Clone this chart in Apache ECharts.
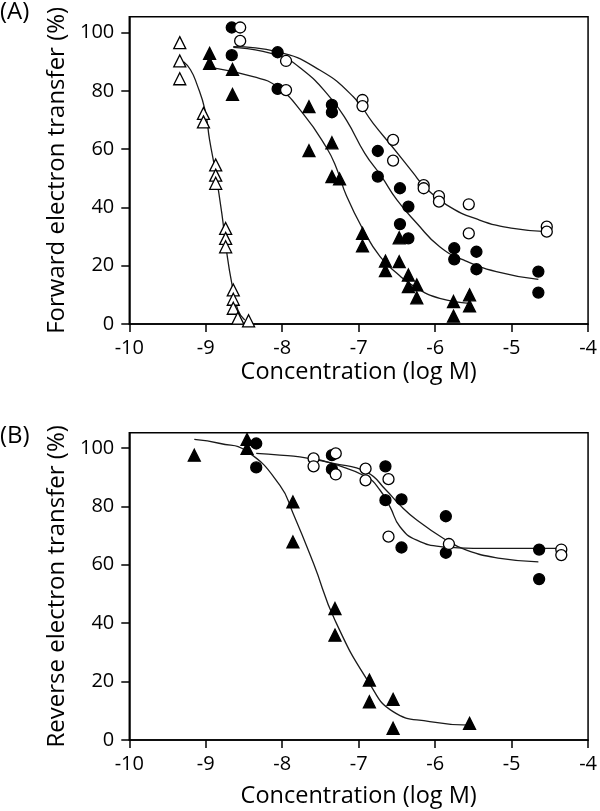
<!DOCTYPE html>
<html>
<head>
<meta charset="utf-8">
<script src="https://cdn.jsdelivr.net/npm/echarts@6/dist/echarts.min.js"></script>
<style>
html,body{margin:0;padding:0;background:#fff;}
#chart{width:600px;height:811px;}
</style>
</head>
<body>
<div id="chart"></div>
<script>
// ---------- Data (x = log M, y = %) ----------
const xTicks = [-10, -9, -8, -7, -6, -5, -4];
const yTicks = [0, 20, 40, 60, 80, 100];

// Panel A: forward electron transfer
const A_openTri = [
  [-9.34,96.6],[-9.34,90.3],[-9.34,84.2],
  [-9.03,72.3],[-9.03,69.4],
  [-8.87,54.6],[-8.87,51.1],[-8.87,48.3],
  [-8.74,32.8],[-8.74,29.4],[-8.74,26.5],
  [-8.64,11.7],[-8.64,8.5],[-8.64,5.4],
  [-8.58,2.0],[-8.44,1.1]
];
const A_filledCirc = [
  [-8.66,101.8],[-8.66,92.3],
  [-8.06,93.3],[-8.06,80.7],
  [-7.35,75.2],[-7.35,72.7],
  [-6.75,59.4],[-6.75,50.6],
  [-6.46,46.6],[-6.46,34.3],
  [-6.35,40.3],[-6.35,29.4],
  [-5.75,26.0],[-5.75,22.2],
  [-5.46,24.8],[-5.46,18.8],
  [-4.65,18.0],[-4.65,10.8]
];
const A_openCirc = [
  [-8.55,101.8],[-8.55,97.2],
  [-7.95,90.3],[-7.95,80.3],
  [-6.95,76.9],[-6.95,74.8],
  [-6.55,63.2],[-6.55,56.1],
  [-6.15,47.7],[-6.15,46.6],
  [-5.95,43.9],[-5.95,42.0],
  [-5.56,41.1],[-5.56,31.1],
  [-4.54,33.4],[-4.54,31.7]
];
const A_filledTri = [
  [-8.95,92.9],[-8.95,89.5],
  [-8.65,87.4],[-8.65,78.8],
  [-7.65,74.6],[-7.65,59.5],
  [-7.35,62.2],[-7.35,50.6],
  [-7.25,49.8],
  [-6.95,31.1],[-6.95,26.8],
  [-6.65,21.6],[-6.65,18.3],
  [-6.47,29.6],[-6.47,21.4],
  [-6.35,16.8],[-6.35,12.8],
  [-6.24,13.4],[-6.24,9.0],
  [-5.76,7.7],[-5.76,2.7],
  [-5.55,10.0],[-5.55,6.2]
];
// fitted curves
const A_fitOpenTri = [
  [-9.29,90.0],[-9.2,87.3],[-9.12,82.6],[-9.01,73.5],[-8.95,63.2],[-8.87,51.7],
  [-8.79,38.0],[-8.73,25.4],[-8.66,14.0],[-8.58,4.8],[-8.49,1.4]
];
const A_fitOpenCirc = [
  [-8.64,95.2],[-8.07,93.5],[-7.51,87.2],[-7.07,78.0],[-6.81,68.9],[-6.55,60.5],
  [-6.29,52.0],[-6.15,47.5],[-5.85,40.9],[-5.42,35.7],[-4.98,32.8],[-4.54,31.7]
];
const A_fitFilledCirc = [
  [-8.64,95.0],[-8.07,92.3],[-7.73,87.2],[-7.38,78.0],[-7.16,70.0],[-6.92,58.6],
  [-6.70,50.6],[-6.50,42.6],[-6.24,34.6],[-5.94,26.5],[-5.63,22.0],[-5.20,18.0],[-4.65,15.3]
];
const A_fitFilledTri = [
  [-8.97,88.3],[-8.38,84.9],[-8.07,81.5],[-7.73,72.3],[-7.42,60.5],[-7.29,53.5],
  [-7.16,44.0],[-6.94,32.3],[-6.72,23.1],[-6.50,17.4],[-6.24,12.3],[-5.94,8.8],[-5.55,7.1]
];

// Panel B: reverse electron transfer
const B_filledTri = [
  [-9.15,97.5],[-8.46,102.9],[-8.46,99.8],
  [-7.86,81.5],[-7.86,67.8],
  [-7.31,45.0],[-7.31,35.9],
  [-6.86,20.5],[-6.86,13.1],
  [-6.55,13.9],[-6.55,4.0],
  [-5.55,5.7]
];
const B_filledCirc = [
  [-8.34,101.5],[-8.34,93.3],
  [-7.35,97.5],[-7.35,92.7],
  [-6.65,93.7],[-6.65,82.1],
  [-6.44,82.4],[-6.44,65.9],
  [-5.86,76.6],[-5.86,64.1],
  [-4.64,65.2],[-4.64,55.1]
];
const B_openCirc = [
  [-7.59,96.4],[-7.59,93.7],
  [-7.30,98.1],[-7.30,90.9],
  [-6.91,92.9],[-6.91,88.9],
  [-6.61,89.3],[-6.61,69.6],
  [-5.82,67.1],
  [-4.35,65.2],[-4.35,63.3]
];
const B_fitFilledTri = [
  [-9.15,102.9],[-8.81,101.5],[-8.46,98.8],[-8.03,87.2],[-7.86,77.7],[-7.59,60.4],
  [-7.31,41.0],[-6.86,19.4],[-6.55,9.7],[-6.07,6.3],[-5.55,5.1]
];
const B_fitFilledCirc = [
  [-8.34,98.1],[-8.03,97.5],[-7.77,96.9],[-7.33,94.7],[-6.90,91.8],[-6.64,85.5],
  [-6.46,80.4],[-6.24,75.3],[-5.89,69.0],[-5.59,65.0],[-5.15,62.2],[-4.65,61.0]
];
const B_fitOpenCirc = [
  [-7.59,96.4],[-7.33,94.5],[-6.90,90.1],[-6.72,85.5],[-6.59,79.8],[-6.46,73.0],
  [-6.24,68.4],[-5.89,66.1],[-5.50,65.6],[-4.35,65.6]
];

const xTitle = 'Concentration (log M)';
const yTitleA = 'Forward electron transfer (%)';
const yTitleB = 'Reverse electron transfer (%)';

// ---------- Chart ----------
const FONT = 'Open Sans';
const chart = echarts.init(document.getElementById('chart'), null, {renderer: 'canvas'});

function xAx(gi, gap) {
  return {
    type: 'value', gridIndex: gi, min: -10, max: -4, interval: 1,
    name: xTitle, nameLocation: 'middle', nameGap: gap,
    nameTextStyle: {fontFamily: FONT, fontSize: 23.5, color: '#000'},
    axisLine: {show: true, onZero: false, lineStyle: {color: '#000', width: 1.5}},
    axisTick: {show: true, inside: false, length: 8, lineStyle: {color: '#000', width: 1.5}},
    axisLabel: {show: true, fontFamily: FONT, fontSize: 20, color: '#000', margin: 14,
      customValues: xTicks},
    splitLine: {show: false}
  };
}
function yAx(gi, name, max) {
  return {
    type: 'value', gridIndex: gi, min: 0, max: max,
    name: name, nameLocation: 'middle', nameGap: 51,
    nameTextStyle: {fontFamily: FONT, fontSize: 24, color: '#000'},
    axisLine: {show: true, onZero: false, lineStyle: {color: '#000', width: 1.5}},
    axisTick: {show: true, inside: false, length: 8, lineStyle: {color: '#000', width: 1.5},
      customValues: yTicks},
    axisLabel: {show: true, fontFamily: FONT, fontSize: 20, color: '#000', margin: 15,
      customValues: yTicks},
    splitLine: {show: false}
  };
}
function scatter(data, xi, symbol, filled, size) {
  return {
    type: 'scatter', xAxisIndex: xi, yAxisIndex: xi, data: data,
    symbol: symbol, symbolSize: size, z: 3,
    itemStyle: {color: filled ? '#000' : '#fff', borderColor: '#000', borderWidth: 1.3, opacity: 1}
  };
}
function curve(data, xi) {
  return {
    type: 'line', xAxisIndex: xi, yAxisIndex: xi, data: data,
    showSymbol: false, symbol: 'none', smooth: 0.5, z: 2,
    lineStyle: {color: '#1a1a1a', width: 1.3}
  };
}

const option = {
  animation: false,
  backgroundColor: '#fff',
  grid: [
    {left: 129.3, top: 16.7, width: 459.2, height: 307.3, show: true, borderColor: '#000', borderWidth: 1.5, backgroundColor: 'transparent'},
    {left: 129.3, top: 432.7, width: 459.2, height: 307.3, show: true, borderColor: '#000', borderWidth: 1.5, backgroundColor: 'transparent'}
  ],
  xAxis: [xAx(0, 36), xAx(1, 44)],
  yAxis: [yAx(0, yTitleA, 105.5), yAx(1, yTitleB, 105.2)],
  graphic: [
    {type: 'text', left: 0, top: 0, style: {text: '(A)', fontFamily: FONT, fontSize: 24, fill: '#000'}},
    {type: 'text', left: 0, top: 424, style: {text: '(B)', fontFamily: FONT, fontSize: 24, fill: '#000'}}
  ],
  series: [
    curve(A_fitOpenTri, 0), curve(A_fitOpenCirc, 0), curve(A_fitFilledCirc, 0), curve(A_fitFilledTri, 0),
    scatter(A_openTri, 0, 'triangle', false, 12),
    scatter(A_filledTri, 0, 'triangle', true, 12),
    scatter(A_filledCirc, 0, 'circle', true, 11),
    scatter(A_openCirc, 0, 'circle', false, 11),
    curve(B_fitFilledTri, 1), curve(B_fitFilledCirc, 1), curve(B_fitOpenCirc, 1),
    scatter(B_filledTri, 1, 'triangle', true, 12),
    scatter(B_filledCirc, 1, 'circle', true, 11),
    scatter(B_openCirc, 1, 'circle', false, 11)
  ]
};
chart.setOption(option);
</script>
</body>
</html>
